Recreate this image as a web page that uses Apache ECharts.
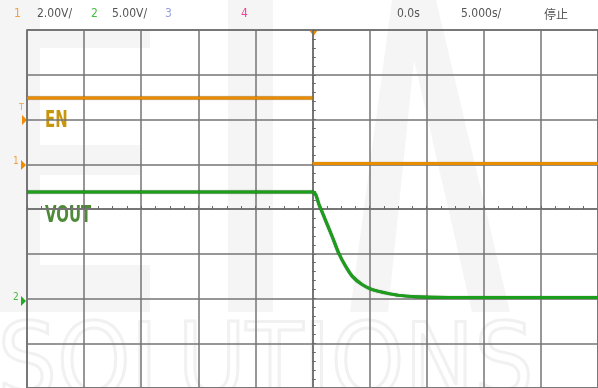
<!DOCTYPE html>
<html><head><meta charset="utf-8">
<script src="https://cdn.jsdelivr.net/npm/echarts@6/dist/echarts.min.js"></script>
<style>html,body{margin:0;padding:0;background:#fff}#c{width:598px;height:388px}</style>
</head><body><div id="c"></div>
<script>
// Time base 5 s/div, trigger at 0 s
const timeRange = [-25, 25];
// CH1 (EN) 2.00 V/div, CH2 (VOUT) 5.00 V/div
const enTime  = [-25, 0, 0, 0, 25];
const enVolts = [2.96, 2.96, '-', 0.03, 0.03];
const voutTime  = [-25, 0, 0.57, 1.15, 1.73, 2.32, 2.90, 3.47, 4.35, 5.23, 6.40, 7.56, 9.0, 11.9, 25];
const voutVolts = [11.9, 11.9, 10.5, 8.7, 6.9, 5.0, 3.6, 2.5, 1.55, 1.0, 0.63, 0.35, 0.2, 0.12, 0.1];
const headerLabels = ['1', '2.00V/', '2', '5.00V/', '3', '4', '0.0s', '5.000s/', '停止'];
const traceNames = ['EN', 'VOUT'];

const chart = echarts.init(document.getElementById('c'), null, {renderer: 'canvas'});
const gridCol = '#747474';
const F = '"DejaVu Sans Condensed","Liberation Sans Narrow",sans-serif';
const pair = (xs, ys) => xs.map((x, i) => [x, ys[i]]);

function xAx(inside, split) {
  return {type: 'value', min: timeRange[0], max: timeRange[1], interval: 5,
    axisLine: {show: true, onZero: true, onZeroAxisIndex: 0, lineStyle: {color: gridCol, width: 1.5}},
    axisTick: {show: true, inside: inside, length: 3, lineStyle: {color: '#666'}},
    minorTick: {show: true, splitNumber: 4, length: 3, lineStyle: {color: '#666'}},
    axisLabel: {show: false},
    splitLine: {show: split, lineStyle: {color: gridCol, width: 1.5}}};
}
function yAx(inside, split) {
  return {type: 'value', min: -4, max: 4, interval: 1,
    axisLine: {show: true, onZero: true, onZeroAxisIndex: 0, lineStyle: {color: gridCol, width: 1.5}},
    axisTick: {show: true, inside: inside, length: 3, lineStyle: {color: '#666'}},
    minorTick: {show: true, splitNumber: 5, length: 3, lineStyle: {color: '#666'}},
    axisLabel: {show: false},
    splitLine: {show: split, lineStyle: {color: gridCol, width: 1.5}}};
}

const wm = '#f5f5f5';
const graphics = [
  // watermark "EIA SOLUTIONS"
  {type: 'rect', z: -10, shape: {x: 0, y: 0, width: 40, height: 312}, style: {fill: wm}},
  {type: 'rect', z: -10, shape: {x: 40, y: 30, width: 110, height: 18}, style: {fill: wm}},
  {type: 'rect', z: -10, shape: {x: 40, y: 145, width: 100, height: 30}, style: {fill: wm}},
  {type: 'rect', z: -10, shape: {x: 40, y: 265, width: 110, height: 47}, style: {fill: wm}},
  {type: 'rect', z: -10, shape: {x: 228, y: 0, width: 45, height: 312}, style: {fill: wm}},
  {type: 'polygon', z: -10, shape: {points: [[392, 0], [436, 0], [510, 312], [472, 312], [414, 60], [388, 312], [350, 312]]}, style: {fill: wm}},
  {type: 'text', z: -10, left: -4, top: 316, style: {text: 'SOLUTIONS', font: '104px ' + F, fill: 'none', stroke: '#f1f1f1', lineWidth: 3}},
  // header
  {type: 'text', left: 14, top: 8, style: {text: headerLabels[0], font: '12px ' + F, fill: '#f0a040'}},
  {type: 'text', left: 37, top: 8, style: {text: headerLabels[1], font: '12px ' + F, fill: '#555'}},
  {type: 'text', left: 91, top: 8, style: {text: headerLabels[2], font: '12px ' + F, fill: '#44bb44'}},
  {type: 'text', left: 112, top: 8, style: {text: headerLabels[3], font: '12px ' + F, fill: '#555'}},
  {type: 'text', left: 165, top: 8, style: {text: headerLabels[4], font: '12px ' + F, fill: '#99a0e0'}},
  {type: 'text', left: 241, top: 8, style: {text: headerLabels[5], font: '12px ' + F, fill: '#ee4499'}},
  {type: 'text', left: 397, top: 8, style: {text: headerLabels[6], font: '12px ' + F, fill: '#555'}},
  {type: 'text', left: 461, top: 8, style: {text: headerLabels[7], font: '12px ' + F, fill: '#555'}},
  {type: 'text', left: 544, top: 8, style: {text: headerLabels[8], font: '12px "Noto Sans CJK SC"', fill: '#555'}},
  // trace labels
  {type: 'text', x: 45, y: 110, scaleX: 0.72, style: {text: traceNames[0], font: 'bold 23px ' + F, fill: '#c8960c'}},
  {type: 'text', x: 45, y: 205, scaleX: 0.72, style: {text: traceNames[1], font: 'bold 23px ' + F, fill: '#4f8a38'}},
  // trigger marker
  {type: 'polygon', shape: {points: [[309, 30], [318, 30], [313.5, 36]]}, style: {fill: '#f08c00'}},
  // level / ground markers
  {type: 'text', left: 19, top: 103, style: {text: 'T', font: '9px ' + F, fill: '#f0a040'}},
  {type: 'polygon', shape: {points: [[22, 115], [27, 120], [22, 125]]}, style: {fill: '#f08c00'}},
  {type: 'text', left: 13, top: 156, style: {text: '1', font: '10px ' + F, fill: '#f0a040'}},
  {type: 'polygon', shape: {points: [[21, 160], [26, 165], [21, 170]]}, style: {fill: '#f08c00'}},
  {type: 'text', left: 13, top: 292, style: {text: '2', font: '10px ' + F, fill: '#44bb44'}},
  {type: 'polygon', shape: {points: [[21, 296], [26, 301], [21, 306]]}, style: {fill: '#22aa22'}}
];

chart.setOption({
  animation: false,
  backgroundColor: '#fff',
  grid: {left: 27, top: 30, width: 572, height: 363, show: true, borderColor: '#555', borderWidth: 1.5, backgroundColor: 'transparent'},
  xAxis: [xAx(true, true), xAx(false, false)],
  yAxis: [yAx(true, true), yAx(false, false),
    {type: 'value', min: -10, max: 6, show: false},
    {type: 'value', min: -10, max: 30, show: false}],
  graphic: graphics,
  series: [
    {name: traceNames[0], type: 'line', xAxisIndex: 0, yAxisIndex: 2, data: pair(enTime, enVolts), showSymbol: false, connectNulls: false,
      lineStyle: {color: '#e88c00', width: 3, shadowColor: 'rgba(90,50,0,0.8)', shadowBlur: 1}, z: 5},
    {name: traceNames[1], type: 'line', xAxisIndex: 0, yAxisIndex: 3, data: pair(voutTime, voutVolts), showSymbol: false, smooth: 0.3,
      lineStyle: {color: '#1c9e1c', width: 3, shadowColor: 'rgba(0,50,0,0.8)', shadowBlur: 1}, z: 5}
  ]
});
</script></body></html>
